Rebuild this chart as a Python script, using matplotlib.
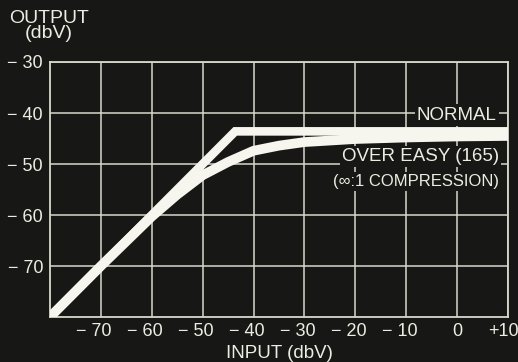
import numpy as np
import matplotlib
matplotlib.use("Agg")
import matplotlib.pyplot as plt
import matplotlib.transforms as mtransforms

plt.rcParams['font.family'] = ['Liberation Sans', 'DejaVu Sans']

# input / output levels in dbV
normal_in = [-80, -43.6, 10]
normal_out = [-80, -43.6, -43.6]

over_easy_in = [-80, -70, -60, -55, -50, -45, -40, -35, -30, -20, -10, 0, 10]
over_easy_out = [-80, -70, -60.3, -56.0, -52.2, -49.6, -47.4, -46.4, -45.7,
                 -45.1, -44.8, -44.6, -44.5]

x_ticks = [-70, -60, -50, -40, -30, -20, -10, 0, 10]
x_tick_labels = ["\u2212 70", "\u2212 60", "\u2212 50", "\u2212 40", "\u2212 30",
                 "\u2212 20", "\u2212 10", "0", "+10"]
y_ticks = [-30, -40, -50, -60, -70]
y_tick_labels = ["\u2212 30", "\u2212 40", "\u2212 50", "\u2212 60", "\u2212 70"]

bg = "#171715"
grid_col = "#d8d8cc"
line_col = "#f6f6ee"
text_col = "#ececE2"

fig = plt.figure(figsize=(5.18, 3.62), dpi=100, facecolor=bg)
ax = fig.add_axes([50/518, 1 - 317/362, 458/518, 255/362])
ax.set_facecolor(bg)

ax.set_xlim(-80, 10)
ax.set_ylim(-80, -30)

# grid
ax.set_xticks(x_ticks)
ax.set_xticklabels([])
ax.set_yticks(y_ticks)
ax.set_yticklabels(y_tick_labels, fontsize=13, color=text_col)
ax.tick_params(length=0, pad=5)
ax.grid(True, color=grid_col, linewidth=1.1)
for s in ax.spines.values():
    s.set_color(grid_col)
    s.set_linewidth(1.3)

# x tick labels: digits centred on the grid line, sign hanging to the left
for xv, lab in zip(x_ticks, x_tick_labels):
    digits = lab.replace("\u2212 ", "").replace("+", "")
    off = 0.055 * len(digits)
    tr = mtransforms.blended_transform_factory(ax.transData, ax.transAxes) + \
        mtransforms.ScaledTranslation(off, 0, fig.dpi_scale_trans)
    ax.text(xv, -0.055, lab, transform=tr, ha="right", va="center",
            fontsize=13, color=text_col, clip_on=False)

ax.plot(over_easy_in, over_easy_out, color=line_col, linewidth=7,
        solid_capstyle="butt", solid_joinstyle="round", zorder=3)
ax.plot(normal_in, normal_out, color=line_col, linewidth=6.2,
        solid_capstyle="butt", solid_joinstyle="miter", zorder=4)

box = dict(facecolor=bg, edgecolor="none", pad=1.5)
ax.text(7.8, -40.4, "NORMAL", ha="right", va="center", fontsize=13.5,
        color=text_col, bbox=box, zorder=5)
ax.text(8.2, -48.6, "OVER EASY (165)", ha="right", va="center", fontsize=13.5,
        color=text_col, bbox=box, zorder=5)
ax.text(8.2, -53.5, "(\u221e:1 COMPRESSION)", ha="right", va="center",
        fontsize=12, color=text_col, bbox=box, zorder=5)

fig.text(49/518, 1 - 10/362, "OUTPUT\n(dbV)", ha="center", va="top",
         fontsize=14, color=text_col, linespacing=0.85)
fig.text(279/518, 1 - 358/362, "INPUT (dbV)", ha="center", va="baseline",
         fontsize=13.5, color=text_col)

fig.savefig("out.png", dpi=100, facecolor=bg)
